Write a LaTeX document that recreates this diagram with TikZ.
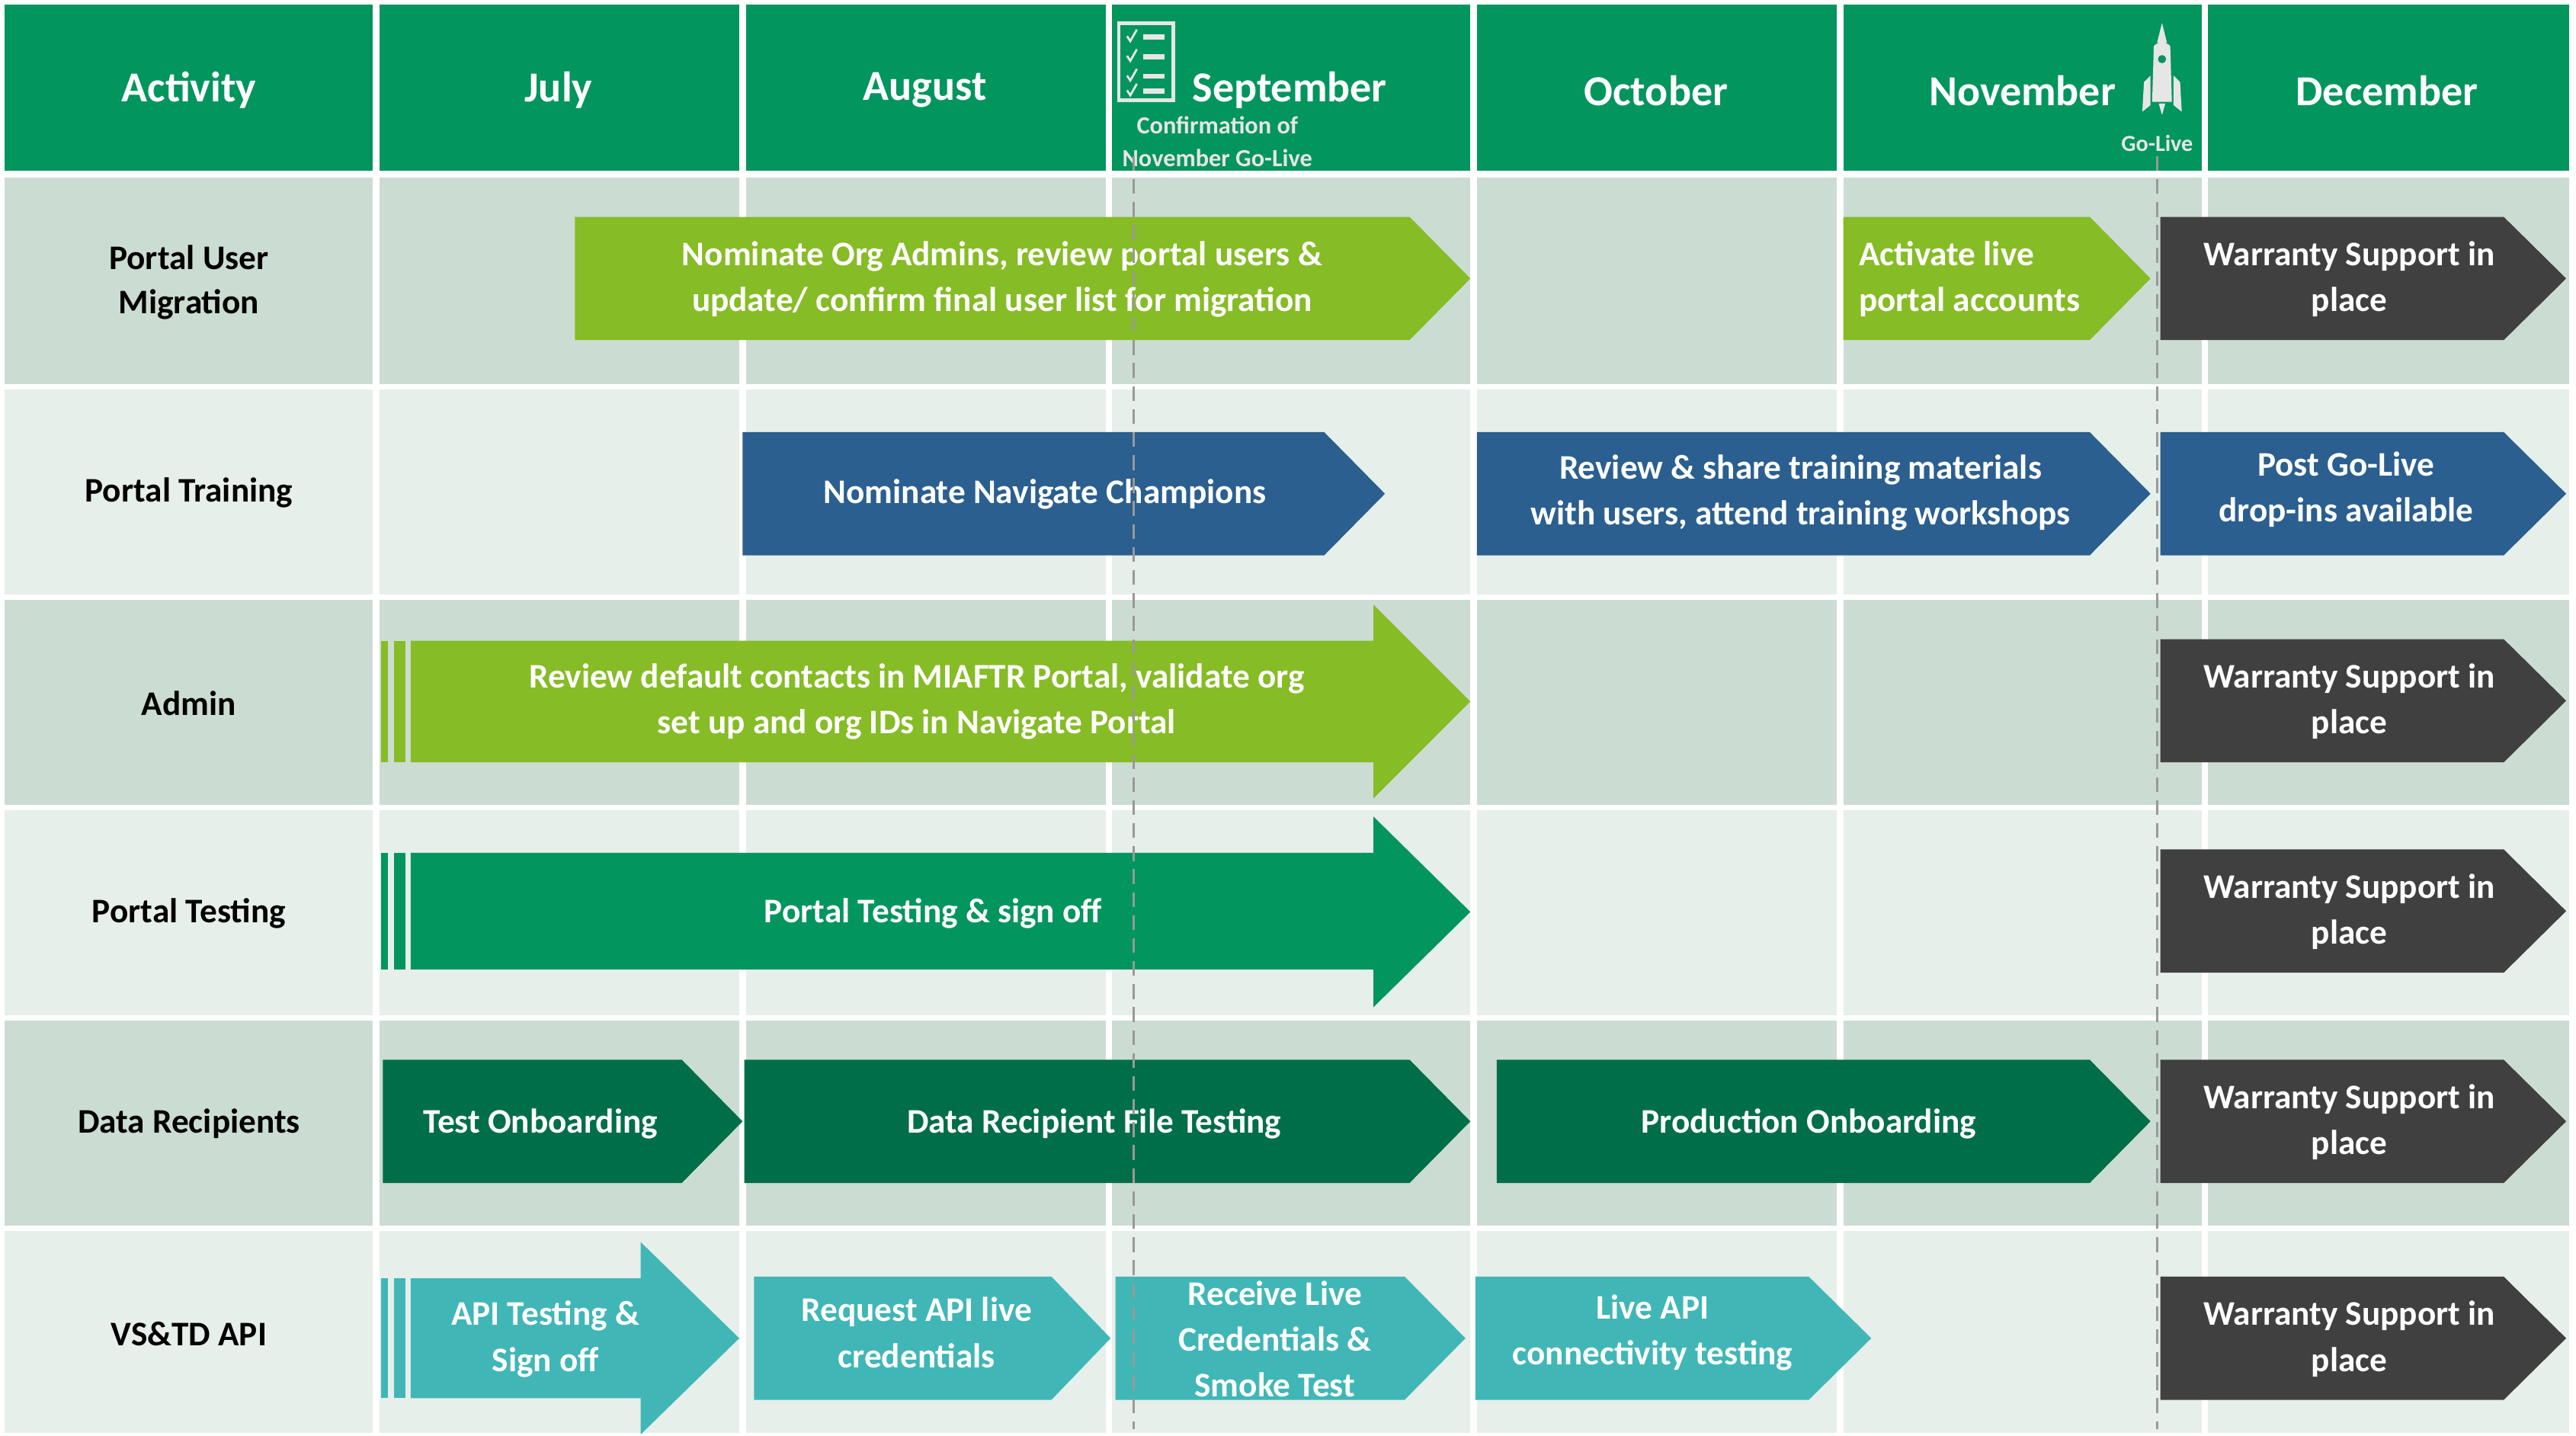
\documentclass[tikz,border=0pt]{standalone}
\usepackage{fontspec}
\setmainfont{Carlito}
\definecolor{hdr}{HTML}{03955E}
\definecolor{rowd}{HTML}{CBDDD3}
\definecolor{rowl}{HTML}{E6EFEA}
\definecolor{lime}{HTML}{86BC25}
\definecolor{navy}{HTML}{2A5F8F}
\definecolor{dgrn}{HTML}{006E48}
\definecolor{teal}{HTML}{41B6B6}
\definecolor{char}{HTML}{404040}
\definecolor{icon}{HTML}{E6E6E6}
\tikzset{
  hdrtxt/.style={text=white,font=\bfseries\fontsize{26}{30}\selectfont},
  rowtxt/.style={text=black,font=\bfseries\fontsize{21}{27}\selectfont,align=center},
  bartxt/.style={text=white,font=\bfseries\fontsize{21}{28}\selectfont,align=center},
  smalltxt/.style={text=icon,font=\bfseries\fontsize{15}{20}\selectfont},
  golive/.style={draw=gray!80,line width=1.6pt,dashed,dash pattern=on 9pt off 5pt}
}
% chevron: x1,y1,x2,y2,tipx,color
\newcommand{\chev}[6]{\fill[#6] (#1,#2) -- (#3,#2) -- (#5,{(#2+#4)/2}) -- (#3,#4) -- (#1,#4) -- cycle;}
% big arrow: x1,by1,by2,hx,hy1,hy2,tip,color
\newcommand{\bigarr}[8]{\fill[#8] (#1,#2) -- (#4,#2) -- (#4,#5) -- (#7,{(#5+#6)/2}) -- (#4,#6) -- (#4,#3) -- (#1,#3) -- cycle;
 \fill[#8] ({#1-18},#2) rectangle ({#1-14},#3); \fill[#8] ({#1-10},#2) rectangle ({#1-3},#3);}
\begin{document}
\begin{tikzpicture}[x=1pt,y=-1pt]
\useasboundingbox (0,0) rectangle (1568,874);
\fill[white] (0,0) rectangle (1568,874);
% header cells
\foreach \a/\b in {3/227,231/450,454/673,677/895,899/1118,1122/1340,1344/1564}
  \fill[hdr] (\a,3) rectangle (\b,104);
% rows
\foreach \ya/\yb/\c in {108/234/rowd,237/362/rowl,365/490/rowd,493/618/rowl,621/746/rowd,749/872/rowl}
  \foreach \a/\b in {3/227,231/450,454/673,677/895,899/1118,1122/1340,1344/1564}
    \fill[\c] (\a,\ya) rectangle (\b,\yb);
% header text
\node[hdrtxt] (hA) at (115,55) {Activity};
\node[hdrtxt] (hJ) at (340,55) {July};
\node[hdrtxt] (hAu) at (563,55) {August};
\node[hdrtxt] (hS) at (785,55) {September};
\node[hdrtxt] (hO) at (1008,55) {October};
\node[hdrtxt] (hN) at (1231,55) {November};
\node[hdrtxt] (hD) at (1453,55) {December};
\node[smalltxt] (conf1) at (741,76) {Confirmation of};
\node[smalltxt] (conf2) at (741,96) {November Go-Live};
\node[smalltxt,font=\bfseries\fontsize{14}{18}\selectfont] (gol) at (1313,87) {Go-Live};
% checklist icon
\draw[icon,line width=2.2pt] (681,14) rectangle (714,61);
\foreach \yy in {22,34,46}{
  \draw[icon,line width=1.3pt] (686,\yy) -- (688,{\yy+3}) -- (692,{\yy-4});
  \fill[icon] (696,{\yy-1}) rectangle (709,{\yy+2});}
\draw[icon,line width=1.3pt] (686,55) -- (688,58) -- (692,51);
\fill[icon] (696,54) rectangle (709,57);
% rocket icon
\fill[icon] (1316,14) -- (1319,26) -- (1313,26) -- cycle;
\fill[icon] (1311,28) .. controls (1314,25) and (1318,25) .. (1321,28) -- (1322,62) -- (1310,62) -- cycle;
\fill[hdr] (1316,36) circle (2.5);
\fill[icon] (1309,46) -- (1305,50) -- (1304,68) -- (1309,64) -- cycle;
\fill[icon] (1323,46) -- (1327,50) -- (1328,68) -- (1323,64) -- cycle;
\fill[icon] (1314,63) -- (1318,63) -- (1316,70) -- cycle;
% row labels
\node[rowtxt] (r1) at (115,172) {Portal User\\Migration};
\node[rowtxt] (r2) at (115,300) {Portal Training};
\node[rowtxt] (r3) at (115,428) {Admin};
\node[rowtxt] (r4) at (115,556) {Portal Testing};
\node[rowtxt] (r5) at (115,684) {Data Recipients};
\node[rowtxt] (r6) at (115,812) {VS\&TD API};
% row 1
\chev{350}{132}{858}{207}{895}{lime}
\node[bartxt] (b11) at (610,170) {Nominate Org Admins, review portal users \&\\update/ confirm final user list for migration};
\chev{1122}{132}{1272}{207}{1309}{lime}
\node[bartxt,align=left,anchor=west] (b12) at (1128,170) {Activate live\\portal accounts};
\chev{1315}{132}{1524}{207}{1562}{char}
\node[bartxt] (b13) at (1430,170) {Warranty Support in\\place};
% row 2
\chev{452}{263}{806}{338}{843}{navy}
\node[bartxt] (b21) at (636,301) {Nominate Navigate Champions};
\chev{899}{263}{1272}{338}{1309}{navy}
\node[bartxt] (b22) at (1096,300) {Review \& share training materials\\with users, attend training workshops};
\chev{1315}{263}{1524}{338}{1562}{navy}
\node[bartxt] (b23) at (1428,298) {Post Go-Live\\drop-ins available};
% row 3
\bigarr{250}{390}{464}{836}{368}{486}{895}{lime}
\node[bartxt] (b31) at (558,427) {Review default contacts in MIAFTR Portal, validate org\\set up and org IDs in Navigate Portal};
\chev{1315}{389}{1524}{464}{1562}{char}
\node[bartxt] (b32) at (1430,427) {Warranty Support in\\place};
% row 4
\bigarr{250}{519}{590}{836}{497}{613}{895}{hdr}
\node[bartxt] (b41) at (568,556) {Portal Testing \& sign off};
\chev{1315}{517}{1524}{592}{1562}{char}
\node[bartxt] (b42) at (1430,555) {Warranty Support in\\place};
% row 5
\chev{233}{645}{415}{720}{452}{dgrn}
\node[bartxt] (b51) at (329,684) {Test Onboarding};
\chev{453}{645}{858}{720}{895}{dgrn}
\node[bartxt] (b52) at (666,684) {Data Recipient File Testing};
\chev{911}{645}{1272}{720}{1309}{dgrn}
\node[bartxt] (b53) at (1101,684) {Production Onboarding};
\chev{1315}{645}{1524}{720}{1562}{char}
\node[bartxt] (b54) at (1430,683) {Warranty Support in\\place};
% row 6
\bigarr{250}{778}{851}{390}{756}{873}{450}{teal}
\node[bartxt] (b61) at (332,815) {API Testing \&\\Sign off};
\chev{459}{777}{640}{852}{676}{teal}
\node[bartxt] (b62) at (558,811) {Request API live\\credentials};
\chev{679}{777}{855}{852}{892}{teal}
\node[bartxt] (b63) at (776,815) {Receive Live\\Credentials \&\\Smoke Test};
\chev{898}{777}{1101}{852}{1139}{teal}
\node[bartxt] (b64) at (1006,811) {Live API\\connectivity testing};
\chev{1315}{777}{1524}{852}{1562}{char}
\node[bartxt] (b65) at (1430,815) {Warranty Support in\\place};
% go-live lines
\coordinate (s1) at (690,95); \coordinate (s2) at (690,870);
\coordinate (n1) at (1313,95); \coordinate (n2) at (1313,870);
\draw[golive] (s1) -- (s2);
\draw[golive] (n1) -- (n2);
\end{tikzpicture}
\end{document}
